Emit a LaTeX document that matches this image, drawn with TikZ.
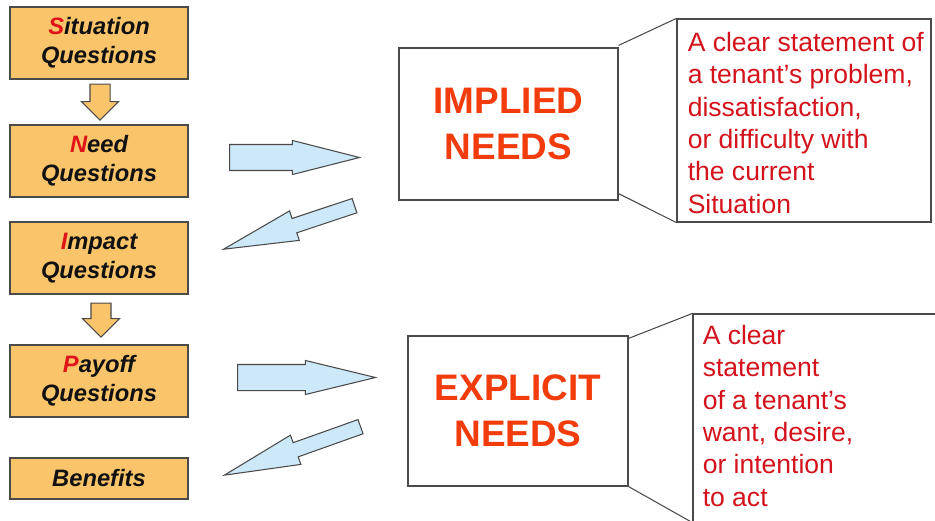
\documentclass[tikz,border=0pt]{standalone}
\usepackage{fontspec}
\setmainfont{Liberation Sans}
\usepackage{xcolor}
\usetikzlibrary{shapes.arrows,positioning}
\definecolor{ink}{HTML}{111111}
\definecolor{frame}{HTML}{4A4A4A}
\definecolor{stepfill}{HTML}{FAC56A}
\definecolor{initred}{HTML}{E01418}
\definecolor{needred}{HTML}{F23C0C}
\definecolor{notered}{HTML}{D4121C}
\definecolor{flowblue}{HTML}{CDE8F8}
\tikzset{
  every node/.style={text=ink},
  spin/.style={draw=frame,line width=0.7pt,fill=stepfill,minimum width=3.56cm,minimum height=1.44cm,align=center,inner sep=0pt,font=\fontsize{13.5}{16.5}\selectfont\bfseries\itshape},
  dropar/.style={single arrow,draw=frame,line width=0.6pt,fill=stepfill,minimum height=0.72cm,inner xsep=0pt,inner ysep=0.19cm,single arrow head extend=0.17cm,rotate=-90,anchor=tail},
  flowar/.style={single arrow,draw=frame,line width=0.6pt,fill=flowblue,inner xsep=0pt,anchor=tail},
  wide/.style={inner ysep=0.25cm,single arrow head extend=0.08cm},
  slim/.style={inner ysep=0.14cm,single arrow head extend=0.16cm},
  needbox/.style={draw=frame,line width=0.7pt,fill=white,align=center,inner sep=0pt,font=\fontsize{21}{26}\selectfont\bfseries,text=needred},
  callout/.style={draw=frame,line width=0.7pt,fill=white,inner sep=0pt},
  calltext/.style={align=left,inner sep=0pt,anchor=north west,font=\fontsize{15.1}{18.4}\selectfont,text=notered},
  leader/.style={draw=frame,line width=0.6pt}
}
\newcommand{\ini}[1]{\textcolor{initred}{#1}}

\begin{document}
\begin{tikzpicture}[x=0.02cm,y=-0.02cm]
  \useasboundingbox (0,0) rectangle (935,520);
  \clip (0,0) rectangle (935,520);

  % SPIN steps
  \node[spin] (sit) at (99,43) {\ini{S}ituation\\Questions};
  \node[spin] (need) at (99,161) {\ini{N}eed\\Questions};
  \node[spin] (impact) at (99,258) {\ini{I}mpact\\Questions};
  \node[spin] (payoff) at (99,381) {\ini{P}ayoff\\Questions};
  \node[spin,minimum height=0.82cm] (benefit) at (99,478.5) {Benefits};

  \node[dropar] (sitdown) at ([xshift=0.02cm,yshift=-0.08cm]sit.south) {};
  \node[dropar,minimum height=0.68cm] (impdown) at ([xshift=0.04cm,yshift=-0.16cm]impact.south) {};

  % needs
  \node[needbox,minimum width=4.38cm,minimum height=3.04cm] (implied) at (508.5,124) {IMPLIED\\NEEDS};
  \node[needbox,minimum width=4.4cm,minimum height=3cm] (explicit) at (518,411) {EXPLICIT\\NEEDS};

  % block arrows
  \node[flowar,wide,minimum height=2.6cm,single arrow tip angle=28.5] (toimp) at (229,157.5) {};
  \node[flowar,slim,rotate=198.4,minimum height=2.76cm,single arrow tip angle=23.5] (fromimp) at (355,205.5) {};
  \node[flowar,wide,minimum height=2.76cm,single arrow tip angle=27.3] (toexp) at (237,377.5) {};
  \node[flowar,slim,rotate=199.6,minimum height=2.89cm,single arrow tip angle=23.2] (fromexp) at (361,426.5) {};

  % callouts
  \node[callout,minimum width=5.08cm,minimum height=4.06cm] (call1) at (804,120.5) {};
  \node[callout,minimum width=5.04cm,minimum height=4.16cm] (call2) at (819,418) {};
  \draw[leader] ([yshift=0.04cm]implied.north east) -- (call1.north west);
  \draw[leader] ([yshift=0.14cm]implied.south east) -- (call1.south west);
  \draw[leader] ([yshift=-0.06cm]explicit.north east) -- (call2.north west);
  \draw[leader] (explicit.south east) -- (call2.south west);

  \node[calltext] (note1) at ([xshift=0.22cm,yshift=-0.27cm]call1.north west) {A clear statement of\\a tenant’s problem,\\dissatisfaction,\\or difficulty with\\the current\\Situation};
  \node[calltext] (note2) at ([xshift=0.2cm,yshift=-0.23cm]call2.north west) {A clear\\statement\\of a tenant’s\\want, desire,\\or intention\\to act};
\end{tikzpicture}
\end{document}
